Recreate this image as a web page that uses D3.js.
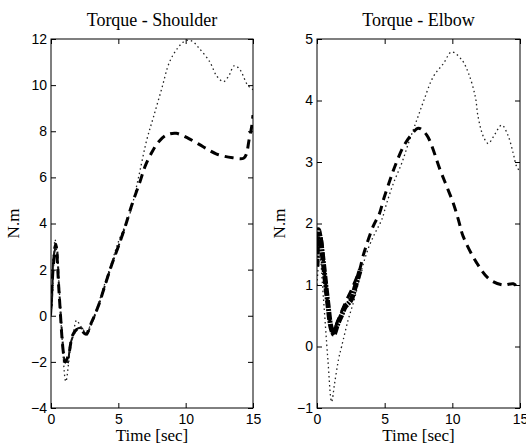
<!DOCTYPE html>
<html>
<head>
<meta charset="utf-8">
<script src="https://cdn.jsdelivr.net/npm/d3@7"></script>
<style>
  body { margin: 0; background: #fff; }
  svg { display: block; }
  .tick text { font-family: "Liberation Sans", Arial, sans-serif; font-size: 14px; fill: #000; }
  .lbl { font-family: "Liberation Serif", "Times New Roman", serif; font-size: 17px; fill: #000; }
  .ttl { font-family: "Liberation Serif", "Times New Roman", serif; font-size: 18px; fill: #000; }
</style>
</head>
<body>
<script>
"use strict";
// time axis ticks and panel titles
const xTicks = [0, 5, 10, 15]
const titles = ["Torque - Shoulder", "Torque - Elbow"]

// shoulder torque, three traces
const shDotT = [0, 0.15, 0.3, 0.5, 0.8, 1.1, 1.4, 1.7, 1.9, 2.2, 2.6, 3, 3.5, 4, 4.5, 5, 5.5, 5.9, 6.5, 7.1, 7.6, 8.2, 8.8, 9.4, 10.0, 10.5, 11.0, 11.8, 12.3, 12.8, 13.2, 13.6, 14.0, 14.6, 15]
const shDotV = [0, 1.5, 3.3, 2.2, -0.8, -2.85, -1.6, -0.6, -0.2, -0.45, -0.7, -0.3, 0.5, 1.4, 2.3, 3.2, 3.9, 4.5, 6.0, 7.6, 8.6, 9.8, 11.0, 11.6, 11.93, 11.9, 11.6, 11.0, 10.4, 10.15, 10.4, 10.84, 10.7, 10.0, 9.8]
const shDashT = [0, 0.15, 0.35, 0.6, 0.9, 1.05, 1.3, 1.6, 1.9, 2.2, 2.6, 3, 3.5, 4, 4.5, 5, 5.5, 6, 6.6, 7.0, 7.5, 8.0, 8.6, 9.3, 10.2, 11.3, 12.3, 13.5, 14.3, 14.5, 14.7, 14.9, 15]
const shDashV = [0.3, 2.0, 3.1, 1.0, -1.5, -2.0, -1.7, -0.85, -0.6, -0.6, -0.8, -0.3, 0.4, 1.3, 2.2, 3.0, 3.85, 4.8, 5.8, 6.5, 7.1, 7.55, 7.84, 7.91, 7.69, 7.33, 7.01, 6.85, 6.83, 7.0, 7.6, 8.2, 8.7]
const shDotDashT = [0, 0.1, 0.2, 0.4, 0.6, 0.85, 1.0, 1.2, 1.45, 1.7, 2.0, 2.3, 2.6, 3, 3.5, 4, 4.5, 5, 5.5]
const shDotDashV = [0, 1.0, 2.6, 3.0, 1.2, -1.0, -1.9, -2.1, -1.2, -0.8, -0.55, -0.55, -0.85, -0.35, 0.4, 1.3, 2.2, 3.0, 3.85]

// elbow torque, three traces
const elDotT = [0, 0.2, 0.47, 0.8, 1.08, 1.3, 1.6, 1.82, 2.3, 2.8, 3.3, 3.8, 4.3, 4.78, 5.15, 5.64, 6.26, 6.75, 7.37, 7.86, 8.6, 9.34, 9.95, 10.7, 11.2, 11.7, 11.9, 12.3, 12.66, 13.03, 13.65, 14.1, 14.5, 14.76, 15]
const elDotV = [1.0, 1.5, 0.8, -0.2, -0.9, -0.6, -0.2, 0.0, 0.43, 0.8, 1.25, 1.6, 1.85, 2.06, 2.33, 2.65, 2.98, 3.3, 3.68, 3.98, 4.39, 4.6, 4.79, 4.66, 4.44, 4.06, 3.74, 3.41, 3.3, 3.41, 3.6, 3.44, 3.14, 2.92, 2.85]
const elDashT = [0, 0.25, 0.6, 1.0, 1.2, 1.5, 2.07, 2.6, 3.18, 3.4, 4.14, 4.63, 4.9, 5.4, 5.76, 6.38, 7.0, 7.49, 8.1, 9.1, 9.59, 10.07, 10.45, 10.8, 11.8, 12.76, 13.75, 14.5, 14.86, 15]
const elDashV = [1.6, 1.8, 1.1, 0.35, 0.21, 0.4, 0.7, 0.95, 1.27, 1.47, 1.95, 2.17, 2.38, 2.71, 2.93, 3.25, 3.45, 3.55, 3.44, 2.87, 2.6, 2.33, 2.06, 1.79, 1.36, 1.09, 1.0, 1.02, 0.96, 0.92]
const elDotDashT = [0, 0.1, 0.25, 0.5, 0.8, 1.05, 1.25, 1.5, 1.8, 2.1, 2.5, 2.8, 3.2]
const elDotDashV = [1.3, 1.9, 1.75, 1.3, 0.7, 0.3, 0.2, 0.35, 0.5, 0.65, 0.75, 0.95, 1.25]

const shYTicks = [-4, -2, 0, 2, 4, 6, 8, 10, 12]
const elYTicks = [-1, 0, 1, 2, 3, 4, 5]

const W = 526, H = 446
const svg = d3.select("body").append("svg").attr("width", W).attr("height", H)

const panels = [
  { left: 51, right: 253, title: titles[0], yDomain: [-4, 12], yTicks: shYTicks,
    series: [
      { t: shDotDashT, v: shDotDashV, w: 2, dash: "7,3,2,3", col: "#111" },
      { t: shDotT, v: shDotV, w: 1.3, dash: "1.5,3", col: "#222" },
      { t: shDashT, v: shDashV, w: 3, dash: "9,6", col: "#000" }
    ] },
  { left: 317, right: 520, title: titles[1], yDomain: [-1, 5], yTicks: elYTicks,
    series: [
      { t: elDotT, v: elDotV, w: 1.3, dash: "1.5,3", col: "#222" },
      { t: elDotDashT, v: elDotDashV, w: 5, dash: "8,1,2,1", col: "#000" },
      { t: elDashT, v: elDashV, w: 3, dash: "9,6", col: "#000" }
    ] }
]
const plotTop = 39, plotBottom = 408

panels.forEach(function(p) {
  const x = d3.scaleLinear().domain([0, 15]).range([p.left, p.right])
  const y = d3.scaleLinear().domain(p.yDomain).range([plotBottom, plotTop])
  const g = svg.append("g")

  g.append("g").attr("transform", `translate(0,${plotBottom})`)
    .call(d3.axisBottom(x).tickValues(xTicks).tickFormat(d3.format("d"))
      .tickSizeInner(-5).tickSizeOuter(0).tickPadding(6))
  g.append("g").attr("transform", `translate(${p.left},0)`)
    .call(d3.axisLeft(y).tickValues(p.yTicks).tickFormat(d3.format("d"))
      .tickSizeInner(-5).tickSizeOuter(0).tickPadding(4))
  g.append("g").attr("transform", `translate(0,${plotTop})`)
    .call(d3.axisTop(x).tickValues(xTicks).tickSizeInner(-5).tickSizeOuter(0).tickFormat(""))
  g.append("g").attr("transform", `translate(${p.right},0)`)
    .call(d3.axisRight(y).tickValues(p.yTicks).tickSizeInner(-5).tickSizeOuter(0).tickFormat(""))
  g.selectAll(".domain").remove()

  const clipId = "clip" + p.left
  svg.append("clipPath").attr("id", clipId).append("rect")
    .attr("x", p.left).attr("y", plotTop).attr("width", p.right - p.left).attr("height", plotBottom - plotTop)

  p.series.forEach(function(s) {
    const pts = s.t.map((t, i) => [t, s.v[i]])
    const line = d3.line().x(d => x(d[0])).y(d => y(d[1])).curve(d3.curveCatmullRom)
    g.append("path").datum(pts)
      .attr("clip-path", `url(#${clipId})`)
      .attr("d", line)
      .attr("fill", "none")
      .attr("stroke", s.col)
      .attr("stroke-width", s.w)
      .attr("stroke-dasharray", s.dash)
  })

  g.append("rect").attr("x", p.left).attr("y", plotTop)
    .attr("width", p.right - p.left).attr("height", plotBottom - plotTop)
    .attr("fill", "none").attr("stroke", "#000").attr("stroke-width", 1)

  g.append("text").attr("class", "ttl").attr("x", (p.left + p.right) / 2).attr("y", 26)
    .attr("text-anchor", "middle").text(p.title)
  g.append("text").attr("class", "lbl").attr("x", (p.left + p.right) / 2).attr("y", 441)
    .attr("text-anchor", "middle").text("Time [sec]")
  g.append("text").attr("class", "lbl")
    .attr("transform", `translate(${p.left - 32},${(plotTop + plotBottom) / 2}) rotate(-90)`)
    .attr("text-anchor", "middle").text("N.m")
})
</script>
</body>
</html>
